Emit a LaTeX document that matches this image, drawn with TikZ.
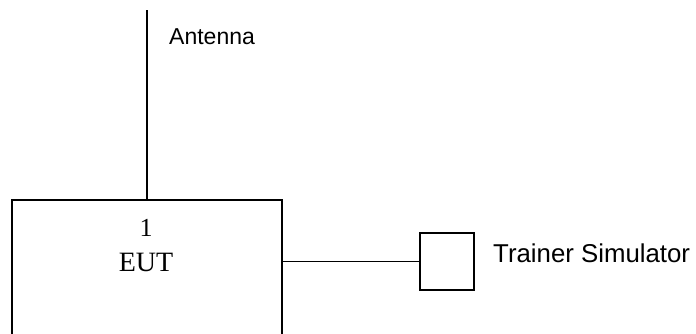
\documentclass[tikz,border=0pt]{standalone}
\usepackage{fontspec}
\setmainfont{Liberation Serif}
\newfontfamily\arialfont{Liberation Sans}
\begin{document}
\begin{tikzpicture}[x=1pt,y=-1pt,
  box/.style={draw,line width=1.7pt,inner sep=0pt,minimum width=#1},
  wire/.style={line width=1.7pt},
  lbl/.style={inner sep=0pt,anchor=west}]
\useasboundingbox (0,0) rectangle (696,333);
\clip (0,0) rectangle (696,333);
\node[box=270pt,minimum height=190pt] (eut) at (147,295) {};
\node[inner sep=0pt,font=\fontsize{26}{28}\selectfont] (one) at (146,228) {1};
\node[inner sep=0pt,font=\fontsize{28}{30}\selectfont] (euttext) at (146,262) {EUT};
\coordinate (ant) at (147,10);
\draw[wire] (ant) -- (ant |- eut.north);
\node[lbl,font=\arialfont\fontsize{23}{26}\selectfont] (antlbl) at (169,37) {Antenna};
\node[box=54pt,minimum height=57pt] (tr) at (447,261.5) {};
\draw[wire] (eut.east |- tr.west) -- (tr.west);
\node[lbl,font=\arialfont\fontsize{25.8}{28}\selectfont] (trlbl) at (493,253) {Trainer Simulator};
\end{tikzpicture}
\end{document}
